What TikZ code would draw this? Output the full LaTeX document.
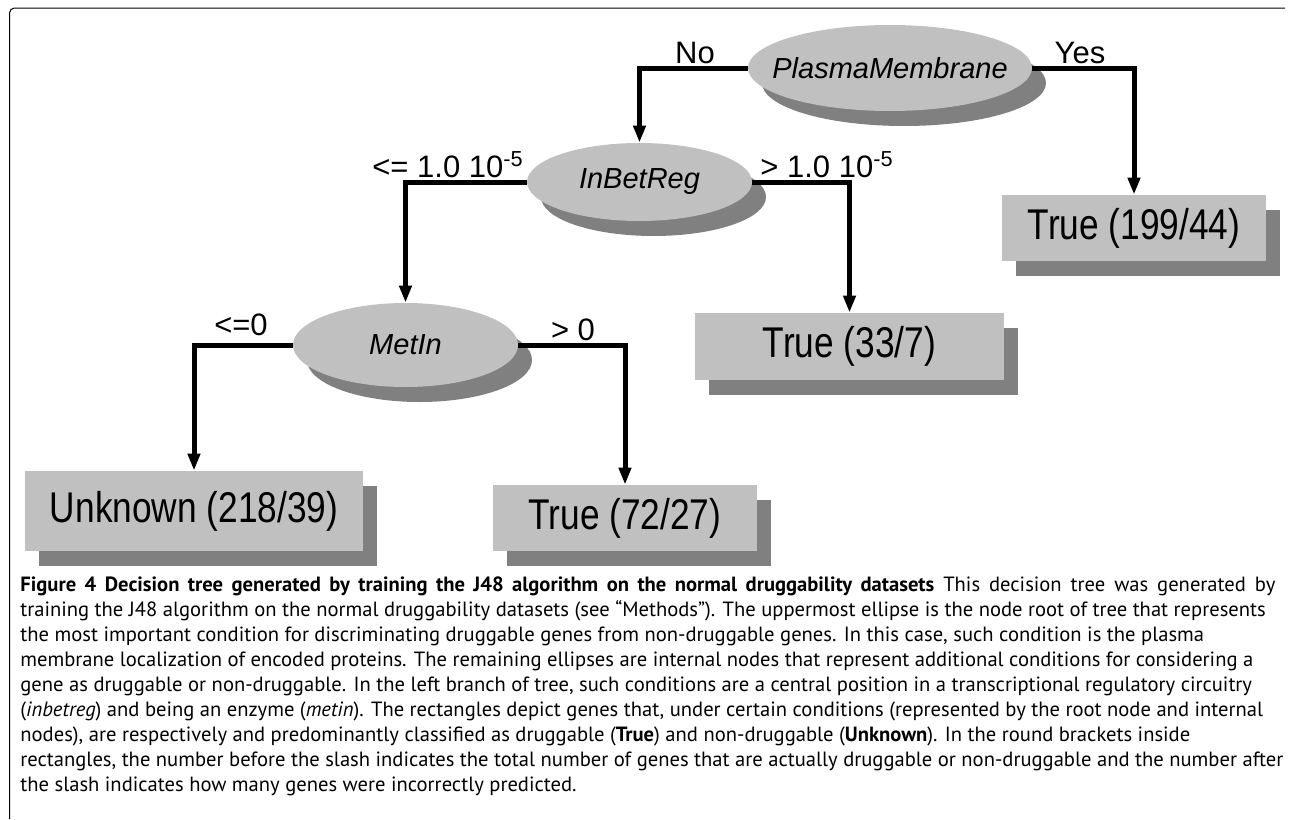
\documentclass[tikz,border=0pt]{standalone}
\usepackage{fontspec}
\setmainfont{Liberation Sans}
\newfontfamily\capfont{PT Sans}
\usepackage{graphicx}
\usepackage{xcolor}
\usetikzlibrary{arrows.meta,shapes.geometric,shadows,positioning}

\definecolor{nodegray}{HTML}{C0C0C0}
\definecolor{shadegray}{HTML}{808080}
\newcommand{\narrow}[1]{\scalebox{0.82}[1]{#1}}

\begin{document}
\begin{tikzpicture}[x=0.5pt, y=-0.5pt,
  test/.style={ellipse, fill=nodegray, inner sep=0pt, font=\fontsize{14.5}{17}\selectfont\itshape,
    drop shadow={shadow xshift=7pt, shadow yshift=-7.5pt, fill=shadegray, opacity=1}},
  leaf/.style={rectangle, fill=nodegray, inner sep=0pt, font=\fontsize{21.5}{26}\selectfont,
    drop shadow={shadow xshift=7pt, shadow yshift=-7.5pt, fill=shadegray, opacity=1}},
  branch/.style={anchor=base, inner sep=0pt, font=\fontsize{15.5}{18}\selectfont},
  arrow/.style={-{Triangle[length=8.5pt, width=6pt]}, line width=2.5pt}]

\useasboundingbox (0,0) rectangle (1290,819);
\draw[line width=0.5pt, rounded corners=2.5pt] (9.5,819) -- (9.5,8) -- (1285,8);

% tests
\node[test, minimum width=142pt, minimum height=43pt] (plasma) at (890,68) {\makebox[0pt]{PlasmaMembrane}};
\node[test, minimum width=112.5pt, minimum height=39pt] (inbet) at (639.5,182) {\makebox[0pt]{InBetReg}};
\node[test, minimum width=112.5pt, minimum height=42pt] (metin) at (405.5,345) {\makebox[0pt]{MetIn}};

% leaves
\node[leaf, minimum width=132pt, minimum height=33pt] (t199) at (1134,228) {\narrow{True (199/44)}};
\node[leaf, minimum width=154.5pt, minimum height=33.5pt] (t33) at (849.5,346.5) {\narrow{True (33/7)}};
\node[leaf, minimum width=169pt, minimum height=40pt] (unk) at (194,511) {\narrow{Unknown (218/39)}};
\node[leaf, minimum width=132pt, minimum height=33pt] (t72) at (625,518) {\narrow{True (72/27)}};

\node[branch] (lno) at (695,63) {No};
\node[branch] (lyes) at (1080,63) {Yes};
\node[branch] (lle5) at (448,177) {<= 1.0 10\textsuperscript{-5}};
\node[branch] (lgt5) at (827,177) {> 1.0 10\textsuperscript{-5}};
\node[branch] (lle0) at (241,335) {<=0};
\node[branch] (lgt0) at (573,340) {> 0};

\draw[arrow] (plasma.west) -| (inbet.north);
\draw[arrow] (plasma.east) -| (t199.north);
\draw[arrow] (inbet.west) -| (metin.north);
\draw[arrow] (inbet.east) -| (t33.north);
\draw[arrow] (metin.west) -| (unk.north);
\draw[arrow] (metin.east) -| (t72.north);

% caption
\node[anchor=north west, inner sep=0pt, align=left, font=\capfont\fontsize{10.3}{12.5}\selectfont] (caption) at (20,576) {%
\makebox[627.5pt][s]{\textbf{Figure 4 Decision tree generated by training the J48 algorithm on the normal druggability datasets} This decision tree was generated by}\\
training the J48 algorithm on the normal druggability datasets (see “Methods”). The uppermost ellipse is the node root of tree that represents\\
the most important condition for discriminating druggable genes from non-druggable genes. In this case, such condition is the plasma\\
membrane localization of encoded proteins. The remaining ellipses are internal nodes that represent additional conditions for considering a\\
gene as druggable or non-druggable. In the left branch of tree, such conditions are a central position in a transcriptional regulatory circuitry\\
(\textit{inbetreg}) and being an enzyme (\textit{metin}). The rectangles depict genes that, under certain conditions (represented by the root node and internal\\
nodes), are respectively and predominantly classified as druggable (\textbf{True}) and non-druggable (\textbf{Unknown}). In the round brackets inside\\
rectangles, the number before the slash indicates the total number of genes that are actually druggable or non-druggable and the number after\\
the slash indicates how many genes were incorrectly predicted.};
\end{tikzpicture}
\end{document}
